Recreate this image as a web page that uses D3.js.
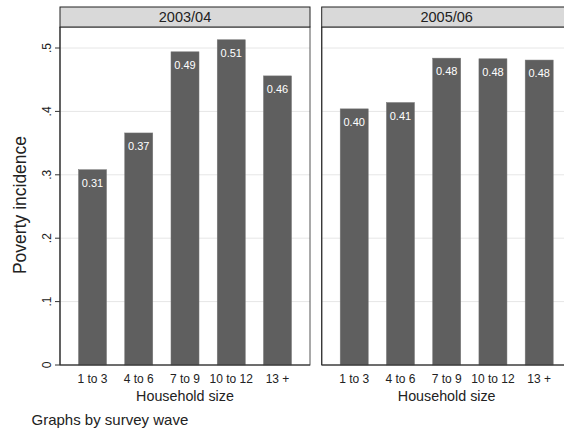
<!DOCTYPE html>
<html><head><meta charset="utf-8">
<script src="https://cdn.jsdelivr.net/npm/d3@7"></script>
<style>body{margin:0;background:#fff}svg{display:block;font-family:"Liberation Sans",Arial,sans-serif}</style>
</head><body><svg id="c" width="564" height="429"></svg>
<script>
const categories = ["1 to 3","4 to 6","7 to 9","10 to 12","13 +"];
const waves = ["2003/04","2005/06"];
const values2003 = [0.308, 0.366, 0.494, 0.513, 0.456];
const values2005 = [0.404, 0.414, 0.484, 0.483, 0.481];
const yTicks = [0, 0.1, 0.2, 0.3, 0.4, 0.5];
const yTickLabels = ["0", ".1", ".2", ".3", ".4", ".5"];
const seriesByWave = [values2003, values2005];

const svg = d3.select("#c");
const panelW = 250, panelTop = 27, headerTop = 7, baseY = 365;
const panelX = [60, 321.7];
const y = d3.scaleLinear().domain([0, 0.5]).range([baseY, 48]);
const fmt = d3.format(".2f");

waves.forEach((w, i) => {
  const x0 = panelX[i];
  const x = d3.scaleBand().domain(categories).range([x0, x0 + panelW]).paddingInner(0.394).paddingOuter(0.4);
  const g = svg.append("g");
  g.selectAll("line.grid").data(yTicks.filter(t => t > 0)).join("line")
    .attr("x1", x0).attr("x2", x0 + panelW)
    .attr("y1", d => y(d)).attr("y2", d => y(d))
    .attr("stroke", "#e6e6e6").attr("stroke-width", 1);
  g.selectAll("rect.bar").data(seriesByWave[i]).join("rect")
    .attr("x", (d, j) => x(categories[j]))
    .attr("width", x.bandwidth())
    .attr("y", d => y(d))
    .attr("height", d => baseY - y(d))
    .attr("fill", "#5f5f5f").attr("stroke", "#777").attr("stroke-width", 0.5);
  g.selectAll("text.lab").data(seriesByWave[i]).join("text")
    .attr("x", (d, j) => x(categories[j]) + x.bandwidth() / 2)
    .attr("y", d => y(d) + 17)
    .attr("text-anchor", "middle").attr("fill", "#fff").attr("font-size", 11)
    .text(d => fmt(d));
  g.append("rect").attr("x", x0).attr("y", panelTop).attr("width", panelW).attr("height", baseY - panelTop)
    .attr("fill", "none").attr("stroke", "#555").attr("stroke-width", 1);
  g.append("line").attr("x1", x0).attr("x2", x0).attr("y1", panelTop).attr("y2", baseY).attr("stroke", "#333").attr("stroke-width", 1.2);
  g.append("line").attr("x1", x0).attr("x2", x0 + panelW).attr("y1", baseY).attr("y2", baseY).attr("stroke", "#333").attr("stroke-width", 1.2);
  g.append("rect").attr("x", x0).attr("y", headerTop).attr("width", panelW).attr("height", panelTop - headerTop)
    .attr("fill", "#d9d9d9").attr("stroke", "#222").attr("stroke-width", 1);
  g.append("text").attr("x", x0 + panelW / 2).attr("y", 21.7).attr("text-anchor", "middle")
    .attr("font-size", 14.5).attr("fill", "#222").text(w);
  g.selectAll("text.xt").data(categories).join("text")
    .attr("x", d => x(d) + x.bandwidth() / 2).attr("y", 382.5)
    .attr("text-anchor", "middle").attr("font-size", 12).attr("fill", "#222").text(d => d);
  g.append("text").attr("x", x0 + panelW / 2).attr("y", 400.5).attr("text-anchor", "middle")
    .attr("font-size", 14.3).attr("fill", "#222").text("Household size");
});

const ya = svg.append("g");
ya.selectAll("line").data(yTicks).join("line")
  .attr("x1", 55).attr("x2", 60).attr("y1", d => y(d)).attr("y2", d => y(d))
  .attr("stroke", "#333").attr("stroke-width", 1);
ya.selectAll("text").data(yTicks).join("text")
  .attr("transform", d => `translate(51,${y(d)}) rotate(-90)`)
  .attr("text-anchor", "middle").attr("font-size", 12).attr("fill", "#222")
  .text((d, k) => yTickLabels[k]);
svg.append("text").attr("transform", "translate(26,205) rotate(-90)")
  .attr("text-anchor", "middle").attr("font-size", 17.5).attr("fill", "#222").text("Poverty incidence");
svg.append("text").attr("x", 31.5).attr("y", 425).attr("font-size", 15).attr("fill", "#222").text("Graphs by survey wave");
</script></body></html>
